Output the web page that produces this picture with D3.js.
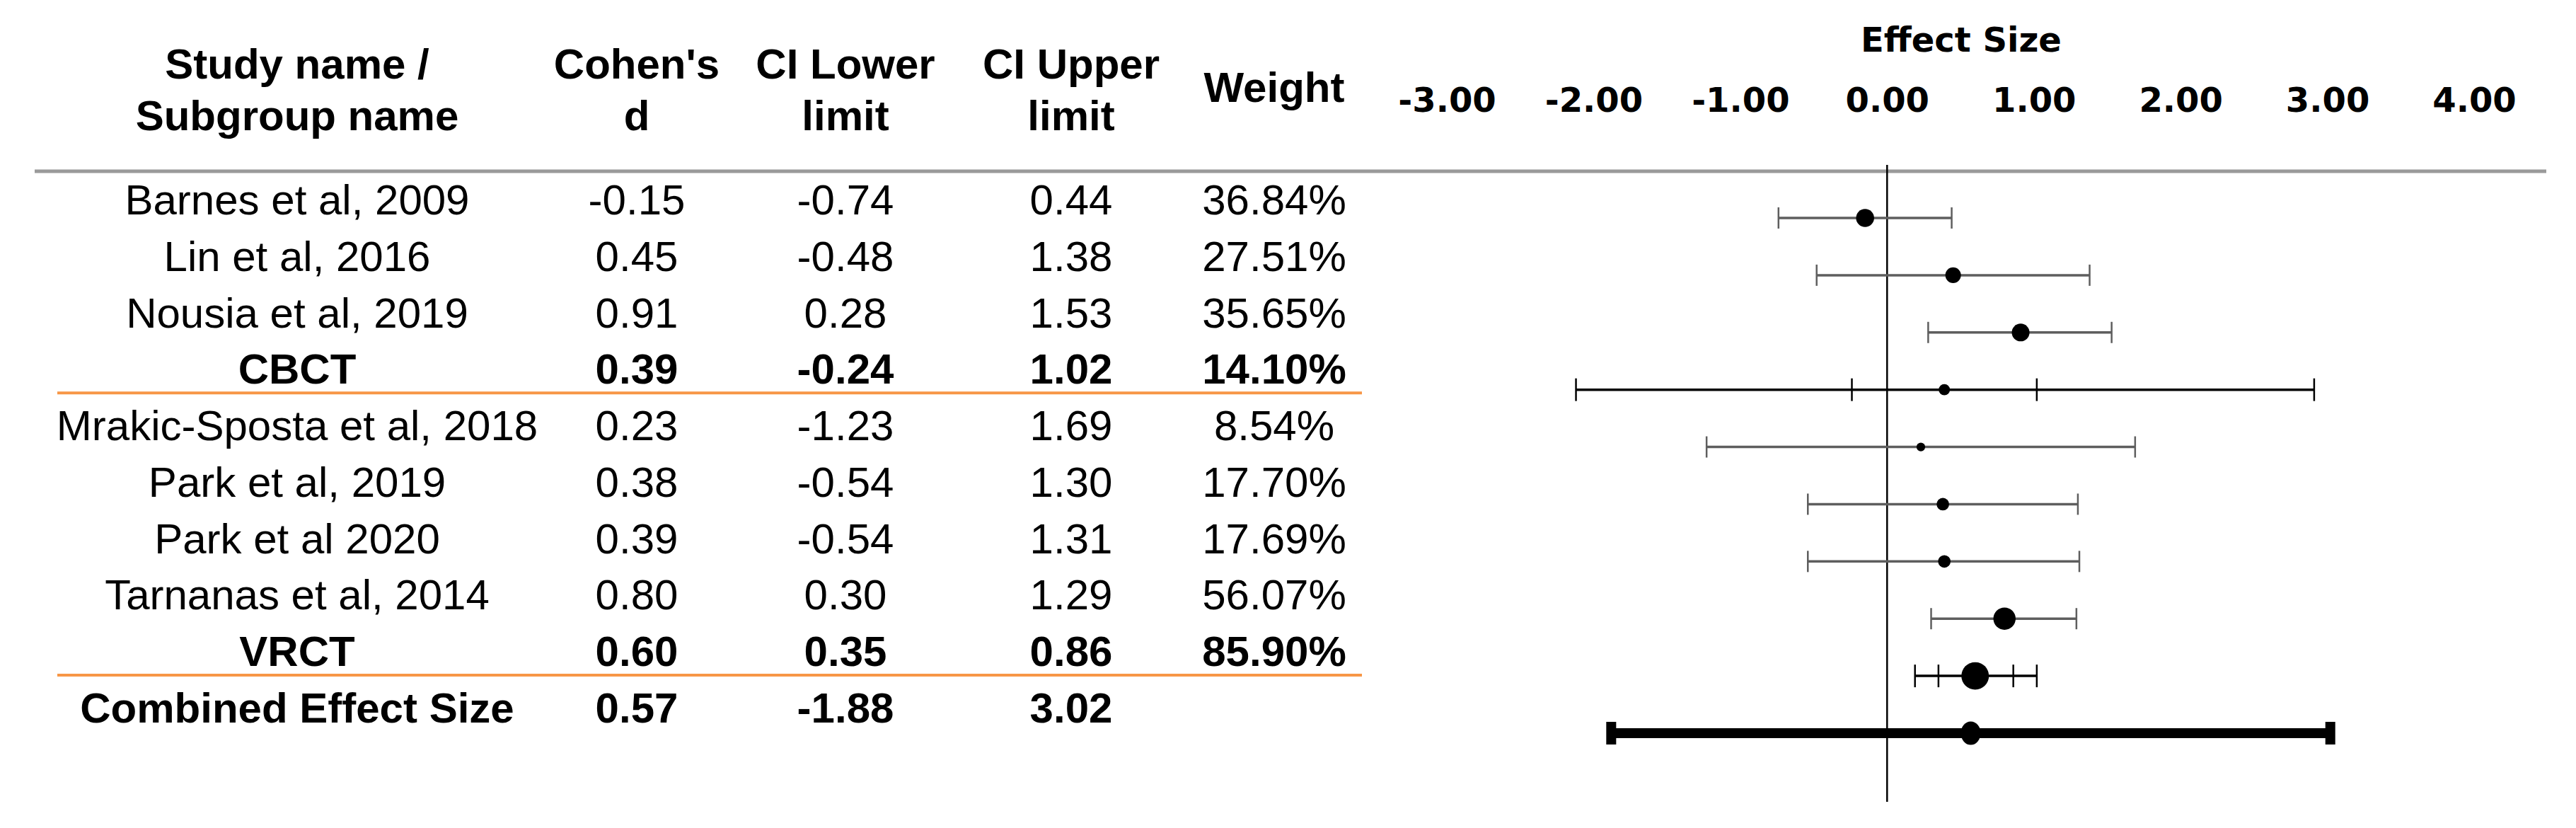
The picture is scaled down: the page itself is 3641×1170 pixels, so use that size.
<!DOCTYPE html>
<html>
<head>
<meta charset="utf-8">
<script src="https://cdn.jsdelivr.net/npm/d3@7"></script>
<style>
  html, body { margin: 0; padding: 0; background: #ffffff; }
  svg { display: block; }
</style>
</head>
<body>
<script>
// ---------------- data ----------------
const studyNames = ["Barnes et al, 2009", "Lin et al, 2016", "Nousia et al, 2019", "CBCT",
  "Mrakic-Sposta et al, 2018", "Park et al, 2019", "Park et al 2020", "Tarnanas et al, 2014",
  "VRCT", "Combined Effect Size"];
const rowTypes = ["study", "study", "study", "subgroup", "study", "study", "study", "study", "subgroup", "combined"];
const cohensD = [-0.15, 0.45, 0.91, 0.39, 0.23, 0.38, 0.39, 0.80, 0.60, 0.57];
const ciLower = [-0.74, -0.48, 0.28, -0.24, -1.23, -0.54, -0.54, 0.30, 0.35, -1.88];
const ciUpper = [0.44, 1.38, 1.53, 1.02, 1.69, 1.30, 1.31, 1.29, 0.86, 3.02];
const weights = [36.84, 27.51, 35.65, 14.10, 8.54, 17.70, 17.69, 56.07, 85.90, null];
// outer (wider) intervals drawn on the subgroup rows
const outerLower = [null, null, null, -2.12, null, null, null, null, 0.19, null];
const outerUpper = [null, null, null, 2.91, null, null, null, null, 1.02, null];

const headerLines = [["Study name /", "Subgroup name"], ["Cohen's", "d"], ["CI Lower", "limit"], ["CI Upper", "limit"], ["Weight"]];
const tickValues = [-3, -2, -1, 0, 1, 2, 3, 4];
const tickLabels = ["-3.00", "-2.00", "-1.00", "0.00", "1.00", "2.00", "3.00", "4.00"];
const axisTitle = "Effect Size";

// ---------------- layout ----------------
const W = 3641, H = 1170;
const svg = d3.select("body").append("svg").attr("width", W).attr("height", H);
svg.append("rect").attr("width", W).attr("height", H).attr("fill", "#fff");

const tableFont = "'Liberation Sans', Arial, sans-serif";
const axisFont = "'DejaVu Sans', sans-serif";
const fs = 60;

const x = d3.scaleLinear().domain([-3, 4]).range([2045, 3497]);
const yPlot = d3.scaleLinear().domain([0, 9]).range([308, 1036]);
const yText = d3.scaleLinear().domain([0, 9]).range([282, 1000]);
const colX = [420, 900, 1195, 1514, 1801];
const rSize = d3.scaleSqrt().domain([0, 100]).range([0, 21]);

// header
const headerCenters = [[90, 163], [90, 163], [90, 163], [90, 163], [123]];
headerLines.forEach((lines, c) => {
  lines.forEach((t, k) => {
    svg.append("text")
      .attr("x", colX[c]).attr("y", headerCenters[c][k] + 21)
      .attr("text-anchor", "middle")
      .attr("font-family", tableFont).attr("font-size", fs).attr("font-weight", "bold")
      .attr("fill", "#000").text(t);
  });
});

// gray header rule
svg.append("line").attr("x1", 49).attr("x2", 3599).attr("y1", 242).attr("y2", 242)
  .attr("stroke", "#9a9a9a").attr("stroke-width", 5);

// orange separators (after subgroup rows)
rowTypes.forEach((t, i) => {
  if (t === "subgroup") {
    const yy = (yText(i) + yText(i + 1)) / 2 - 6;
    svg.append("line").attr("x1", 81).attr("x2", 1925).attr("y1", yy).attr("y2", yy)
      .attr("stroke", "#f79646").attr("stroke-width", 4);
  }
});

// table body
const fmt = v => v.toFixed(2);
studyNames.forEach((name, i) => {
  const bold = rowTypes[i] !== "study";
  const vals = [name, fmt(cohensD[i]), fmt(ciLower[i]), fmt(ciUpper[i]),
    weights[i] == null ? "" : weights[i].toFixed(2) + "%"];
  vals.forEach((t, c) => {
    if (!t) return;
    svg.append("text")
      .attr("x", colX[c]).attr("y", yText(i) + 21)
      .attr("text-anchor", "middle")
      .attr("font-family", tableFont).attr("font-size", fs)
      .attr("font-weight", bold ? "bold" : "normal")
      .attr("fill", "#000").text(t);
  });
});

// axis title + tick labels
svg.append("text").attr("x", 2772).attr("y", 73).attr("text-anchor", "middle")
  .attr("font-family", axisFont).attr("font-size", 48).attr("font-weight", "bold")
  .attr("fill", "#000").text(axisTitle);

const axisG = svg.append("g").attr("transform", "translate(0,158)")
  .call(d3.axisTop(x).tickValues(tickValues).tickFormat((d, i) => tickLabels[i]).tickSize(0).tickPadding(0));
axisG.select(".domain").remove();
axisG.attr("font-family", axisFont).attr("font-size", 48);
axisG.selectAll("text").attr("font-weight", "bold").attr("fill", "#000");

// zero reference line
svg.append("line").attr("x1", x(0)).attr("x2", x(0)).attr("y1", 233).attr("y2", 1133)
  .attr("stroke", "#000").attr("stroke-width", 2.5);

// forest marks
const gF = svg.append("g");
function cap(v, yy, h, color, w) {
  gF.append("line").attr("x1", x(v)).attr("x2", x(v)).attr("y1", yy - h / 2).attr("y2", yy + h / 2)
    .attr("stroke", color).attr("stroke-width", w);
}
rowTypes.forEach((t, i) => {
  const yy = yPlot(i);
  if (t === "study") {
    const col = "#5e5e5e";
    gF.append("line").attr("x1", x(ciLower[i])).attr("x2", x(ciUpper[i])).attr("y1", yy).attr("y2", yy)
      .attr("stroke", col).attr("stroke-width", 3.5);
    cap(ciLower[i], yy, 30, col, 2.5);
    cap(ciUpper[i], yy, 30, col, 2.5);
    gF.append("circle").attr("cx", x(cohensD[i])).attr("cy", yy).attr("r", rSize(weights[i])).attr("fill", "#000");
  } else if (t === "subgroup") {
    gF.append("line").attr("x1", x(outerLower[i])).attr("x2", x(outerUpper[i])).attr("y1", yy).attr("y2", yy)
      .attr("stroke", "#000").attr("stroke-width", 3.5);
    [outerLower[i], ciLower[i], ciUpper[i], outerUpper[i]].forEach(v => cap(v, yy, 32, "#000", 2.5));
    gF.append("circle").attr("cx", x(cohensD[i])).attr("cy", yy).attr("r", rSize(weights[i])).attr("fill", "#000");
  } else {
    gF.append("line").attr("x1", x(ciLower[i])).attr("x2", x(ciUpper[i])).attr("y1", yy).attr("y2", yy)
      .attr("stroke", "#000").attr("stroke-width", 14);
    [ciLower[i], ciUpper[i]].forEach(v => {
      gF.append("rect").attr("x", x(v) - 7).attr("y", yy - 16).attr("width", 14).attr("height", 32).attr("fill", "#000");
    });
    gF.append("ellipse").attr("cx", x(cohensD[i])).attr("cy", yy).attr("rx", 14).attr("ry", 16.5).attr("fill", "#000");
  }
});
</script>
</body>
</html>
